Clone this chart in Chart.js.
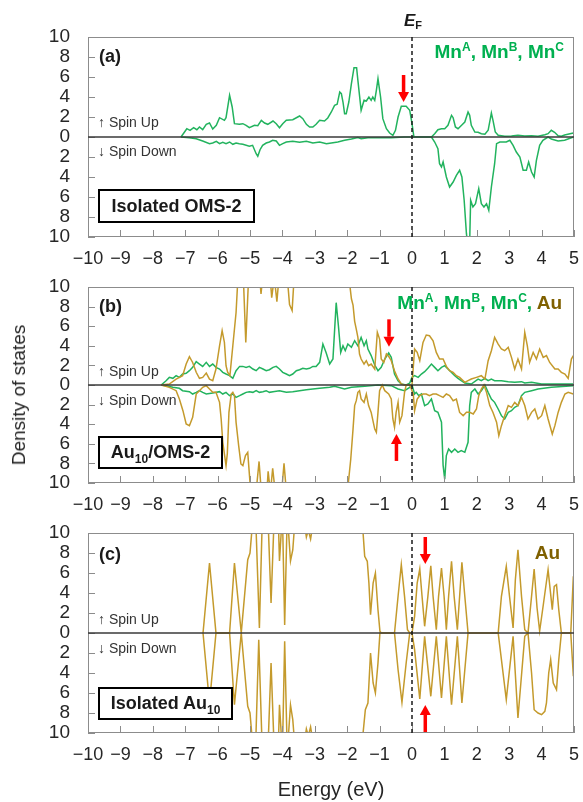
<!DOCTYPE html>
<html>
<head>
<meta charset="utf-8">
<script src="https://cdn.jsdelivr.net/npm/chart.js@4.4.1/dist/chart.umd.min.js"></script>
<style>
  body { margin: 0; background: #fff; }
  #wrap { position: relative; width: 583px; height: 802px; overflow: hidden; font-family: 'Liberation Sans', Arial, sans-serif; color: #262626; }
  canvas { position: absolute; left: 0; }
  .t { position: absolute; white-space: nowrap; }
  .lab { font-weight: bold; font-size: 18px; line-height: 22px; color: #1a1a1a; }
  .spin { font-size: 14px; line-height: 16px; color: #333; }
  .box { position: absolute; box-sizing: border-box; border: 2px solid #000; background: #fff; font-weight: bold; font-size: 18px; color: #1a1a1a; display: flex; align-items: center; justify-content: center; }
  .box sub { font-size: 12px; vertical-align: -5px; line-height: 0; }
  .lg { font-weight: bold; font-size: 19px; line-height: 22px; color: #00b050; text-align: right; }
  .lg sup { font-size: 12px; vertical-align: 7px; line-height: 0; }
  .au { color: #7f6000; }
</style>
</head>
<body>
<div id="wrap">
  <canvas id="pa" width="583" height="270" style="top:0"></canvas>
  <canvas id="pb" width="583" height="250" style="top:270px"></canvas>
  <canvas id="pc" width="583" height="282" style="top:520px"></canvas>

  <div class="t" style="left:404px; top:10px; font-weight:bold; font-style:italic; font-size:17px; line-height:22px; color:#1a1a1a;">E<sub style="font-size:11px; font-style:normal; vertical-align:-3px; line-height:0;">F</sub></div>
  <div class="t" style="left:19px; top:395px; font-size:19px; transform: translate(-50%, -50%) rotate(-90deg);">Density of states</div>

  <div class="t lab" style="left:99px; top:45px;">(a)</div>
  <div class="t spin" style="left:98px; top:114px;">↑ Spin Up</div>
  <div class="t spin" style="left:98px; top:143px;">↓ Spin Down</div>
  <div class="box" style="left:98px; top:189px; width:157px; height:34px;"><span>Isolated OMS-2</span></div>
  <div class="t lg" style="right:19px; top:41px;">Mn<sup>A</sup>, Mn<sup>B</sup>, Mn<sup>C</sup></div>

  <div class="t lab" style="left:99px; top:295px;">(b)</div>
  <div class="t spin" style="left:98px; top:363px;">↑ Spin Up</div>
  <div class="t spin" style="left:98px; top:392px;">↓ Spin Down</div>
  <div class="box" style="left:98px; top:436px; width:125px; height:33px;"><span>Au<sub>10</sub>/OMS-2</span></div>
  <div class="t lg" style="right:21px; top:292px;">Mn<sup>A</sup>, Mn<sup>B</sup>, Mn<sup>C</sup>, <span class="au">Au</span></div>

  <div class="t lab" style="left:99px; top:543px;">(c)</div>
  <div class="t spin" style="left:98px; top:611px;">↑ Spin Up</div>
  <div class="t spin" style="left:98px; top:640px;">↓ Spin Down</div>
  <div class="box" style="left:98px; top:687px; width:135px; height:33px;"><span>Isolated Au<sub>10</sub></span></div>
  <div class="t lg au" style="right:23px; top:542px;">Au</div>
</div>
<script>
// energy (eV), DOS pairs
const aMnUp = [[-7.13,0],[-6.95,0.83],[-6.85,0.67],[-6.74,0.93],[-6.64,0.73],[-6.56,1.0],[-6.46,0.73],[-6.35,1.27],[-6.25,1.4],[-6.15,0.8],[-6.04,1.17],[-5.94,1.93],[-5.79,1.67],[-5.74,1.93],[-5.63,4.17],[-5.55,3.0],[-5.48,1.33],[-5.33,1.27],[-5.22,1.33],[-5.12,1.17],[-5.02,0.93],[-4.86,1.17],[-4.76,1.13],[-4.65,1.67],[-4.55,1.4],[-4.45,1.27],[-4.29,1.6],[-4.19,1.33],[-4.09,0.93],[-3.99,1.33],[-3.88,1.67],[-3.68,1.73],[-3.47,2.1],[-3.37,1.83],[-3.26,1.27],[-3.16,1.0],[-3.06,1.0],[-2.96,1.27],[-2.85,1.67],[-2.70,1.6],[-2.60,1.9],[-2.49,2.5],[-2.39,3.17],[-2.31,3.27],[-2.23,4.5],[-2.18,4.33],[-2.13,3.5],[-2.08,2.33],[-2.03,2.33],[-1.95,3.5],[-1.87,5.33],[-1.79,6.93],[-1.71,6.93],[-1.67,5.67],[-1.62,4.17],[-1.57,2.67],[-1.48,3.67],[-1.41,3.6],[-1.33,4.0],[-1.26,3.67],[-1.21,4.0],[-1.15,3.67],[-1.10,4.67],[-1.05,5.83],[-0.97,4.0],[-0.90,1.83],[-0.79,0.83],[-0.69,0.4],[-0.59,0.17],[-0.51,0.67],[-0.43,2.0],[-0.33,3.07],[-0.18,3.07],[-0.07,2.67],[0.00,1.33],[0.06,0],[0.60,0],[0.70,0.33],[0.80,0.73],[0.91,0.83],[1.01,0.83],[1.11,1.17],[1.22,2.17],[1.27,1.93],[1.34,1.0],[1.42,0.83],[1.53,1.17],[1.63,1.5],[1.73,2.5],[1.78,2.17],[1.83,1.17],[1.94,0.5],[2.04,0.47],[2.14,0.33],[2.25,0.27],[2.35,0.67],[2.45,2.4],[2.50,1.67],[2.57,0.5],[2.66,0.17],[2.86,0.07],[3.07,0.1],[3.27,0.17],[3.48,0.1],[3.69,0.13],[3.89,0.07],[4.10,0.23],[4.20,0.33],[4.30,0.67],[4.40,0.47],[4.51,0.13],[4.61,0.07],[4.71,0.2],[4.81,0.27],[4.98,0.4]];
const aMnDown = [[-7.13,0],[-6.87,-0.07],[-6.66,-0.17],[-6.46,-0.4],[-6.25,-0.67],[-6.15,-0.6],[-6.04,-0.43],[-5.94,-0.67],[-5.84,-0.53],[-5.74,-0.67],[-5.63,-0.5],[-5.53,-0.73],[-5.43,-0.6],[-5.33,-0.67],[-5.22,-0.73],[-5.02,-0.93],[-4.92,-0.83],[-4.81,-1.67],[-4.76,-1.93],[-4.69,-1.27],[-4.61,-0.83],[-4.50,-0.6],[-4.40,-0.5],[-4.30,-0.33],[-4.19,-0.4],[-4.09,-0.83],[-3.99,-0.67],[-3.88,-0.5],[-3.68,-0.43],[-3.47,-0.53],[-3.26,-0.43],[-3.06,-0.6],[-2.85,-0.5],[-2.64,-0.67],[-2.49,-0.6],[-2.29,-0.5],[-2.08,-0.33],[-1.87,-0.2],[-1.67,-0.05],[-1.57,-0.17],[-1.36,-0.07],[-1.05,-0.07],[-0.64,-0.07],[-0.23,0],[0.60,0],[0.70,-0.5],[0.80,-1.17],[0.85,-2.67],[0.91,-3.0],[0.96,-2.5],[1.06,-4.0],[1.16,-5.0],[1.27,-4.5],[1.37,-3.83],[1.47,-3.33],[1.54,-4.0],[1.61,-6.33],[1.68,-9.67],[1.73,-11],[1.78,-10.5],[1.81,-6.33],[1.88,-7.0],[1.96,-6.67],[2.06,-5.17],[2.14,-6.67],[2.22,-7.0],[2.30,-6.67],[2.37,-7.33],[2.45,-5.0],[2.55,-2.67],[2.61,-0.67],[2.71,-0.5],[2.91,-0.5],[3.02,-0.33],[3.12,-0.83],[3.22,-1.5],[3.33,-2.0],[3.43,-3.33],[3.53,-3.33],[3.60,-2.5],[3.69,-3.5],[3.77,-4.0],[3.84,-2.33],[3.94,-0.83],[4.04,-0.33],[4.20,0],[4.30,-0.2],[4.51,-0.4],[4.71,-0.33],[4.92,-0.07],[4.98,0]];

const bMnUp = [[-7.74,0],[-7.59,0.44],[-7.49,0.78],[-7.38,0.68],[-7.28,0.95],[-7.18,0.78],[-7.08,1.12],[-6.97,1.19],[-6.87,1.46],[-6.77,1.8],[-6.66,2.38],[-6.56,2.14],[-6.46,1.9],[-6.35,2.31],[-6.25,1.9],[-6.15,2.14],[-6.05,1.8],[-5.94,1.63],[-5.84,1.29],[-5.74,1.12],[-5.63,0.95],[-5.53,0.68],[-5.43,1.46],[-5.32,1.9],[-5.22,1.9],[-5.12,1.8],[-5.02,1.9],[-4.91,1.63],[-4.81,1.46],[-4.71,1.8],[-4.60,1.63],[-4.50,1.46],[-4.40,1.56],[-4.29,1.8],[-4.19,1.9],[-4.09,1.63],[-3.99,1.29],[-3.88,1.12],[-3.78,0.95],[-3.68,1.12],[-3.57,1.46],[-3.47,1.56],[-3.37,1.7],[-3.26,1.63],[-3.16,1.7],[-3.06,1.9],[-2.96,1.9],[-2.85,2.31],[-2.75,4.18],[-2.65,3.3],[-2.54,2.14],[-2.44,2.65],[-2.34,8.4],[-2.27,6.0],[-2.20,3.33],[-2.13,4.0],[-2.06,3.5],[-1.98,4.18],[-1.87,3.84],[-1.77,4.52],[-1.67,4.0],[-1.57,4.86],[-1.48,4.0],[-1.41,4.52],[-1.36,3.67],[-1.26,3.0],[-1.15,2.04],[-1.05,1.46],[-0.95,1.8],[-0.84,2.65],[-0.72,3.27],[-0.64,2.82],[-0.54,1.12],[-0.43,0.44],[-0.33,0.1],[-0.18,0],[-0.07,0.2],[0.00,0.78],[0.08,0.95],[0.19,0.78],[0.29,1.12],[0.39,1.36],[0.49,1.7],[0.60,2.14],[0.70,1.8],[0.80,1.46],[0.91,1.8],[1.01,1.97],[1.11,1.63],[1.22,1.29],[1.32,0.95],[1.42,0.68],[1.52,0.44],[1.63,0.2],[1.83,0.1],[2.04,0.6],[2.14,0.44],[2.25,0.68],[2.35,0.44],[2.45,0.6],[2.55,0.44],[2.76,0.44],[2.97,0.34],[3.17,0.27],[3.38,0.34],[3.48,0.2],[3.69,0.27],[4.00,0.1],[4.51,0.1],[4.98,0.1]];
const bMnDown = [[-7.74,0],[-7.59,-0.07],[-7.38,-0.24],[-7.18,-0.34],[-7.08,-0.58],[-6.87,-0.68],[-6.77,-0.92],[-6.66,-0.75],[-6.56,-0.58],[-6.46,-0.75],[-6.35,-0.92],[-6.15,-0.82],[-5.94,-0.68],[-5.84,-0.92],[-5.74,-0.75],[-5.63,-1.09],[-5.53,-0.92],[-5.43,-1.26],[-5.32,-1.09],[-5.22,-0.92],[-5.12,-0.75],[-5.02,-0.68],[-4.91,-0.75],[-4.81,-0.58],[-4.71,-0.75],[-4.60,-0.68],[-4.50,-0.58],[-4.40,-0.75],[-4.29,-0.68],[-4.09,-0.58],[-3.88,-0.75],[-3.68,-0.68],[-3.47,-0.58],[-3.26,-0.48],[-3.06,-0.41],[-2.85,-0.34],[-2.54,-0.24],[-2.39,-0.14],[-2.08,-0.41],[-1.87,-0.24],[-1.46,-0.14],[-1.05,0],[-0.64,-0.07],[-0.43,-0.41],[-0.23,-0.58],[-0.07,-0.24],[0.00,0],[0.08,-0.92],[0.13,-0.75],[0.21,-1.09],[0.29,-0.92],[0.39,-2.1],[0.49,-1.94],[0.60,-1.43],[0.70,-2.62],[0.80,-2.79],[0.91,-3.8],[0.96,-8.2],[1.01,-9.6],[1.06,-7.2],[1.13,-6.53],[1.22,-6.87],[1.32,-6.53],[1.42,-6.87],[1.52,-6.7],[1.63,-6.87],[1.73,-5.85],[1.78,-2.1],[1.83,-0.75],[1.94,-0.41],[2.04,-0.92],[2.14,-0.58],[2.25,0],[2.35,-0.75],[2.45,-1.43],[2.55,-1.77],[2.66,-2.45],[2.76,-3.13],[2.86,-3.47],[2.97,-2.79],[3.07,-2.62],[3.17,-2.28],[3.27,-2.1],[3.38,-1.09],[3.48,-0.75],[3.69,-0.58],[3.89,-0.41],[4.30,-0.24],[4.98,-0.07]];
const bAuUp = [[-7.74,0],[-7.49,0.1],[-7.28,0.6],[-7.08,0.95],[-6.97,2.14],[-6.87,2.9],[-6.77,2.3],[-6.66,1.3],[-6.56,0.68],[-6.46,0.78],[-6.35,1.22],[-6.25,0.6],[-6.15,0.44],[-6.05,1.63],[-5.94,4.0],[-5.86,5.54],[-5.79,4.35],[-5.74,1.97],[-5.69,1.3],[-5.62,0.95],[-5.53,4.0],[-5.43,7.4],[-5.38,10.5],[-5.30,14],[-5.20,10.5],[-5.13,4.35],[-5.05,10.5],[-4.95,14],[-4.75,13],[-4.66,9.3],[-4.55,13],[-4.40,12],[-4.33,8.9],[-4.25,11],[-4.17,8.5],[-4.08,12],[-3.90,13],[-3.78,8.2],[-3.70,7.6],[-3.62,12],[-3.30,15],[-2.50,15],[-2.10,14],[-1.93,10.5],[-1.87,8.8],[-1.82,8.16],[-1.77,6.5],[-1.72,5.7],[-1.67,4.86],[-1.62,3.16],[-1.57,2.65],[-1.48,2.14],[-1.41,2.48],[-1.34,1.97],[-1.26,2.14],[-1.15,1.63],[-1.07,5.37],[-1.00,4.69],[-0.95,2.65],[-0.87,2.3],[-0.79,3.16],[-0.72,2.93],[-0.64,2.48],[-0.54,1.46],[-0.43,0.61],[-0.33,0.1],[-0.23,0],[0.00,0],[0.08,3.67],[0.16,3.33],[0.24,2.48],[0.34,4.35],[0.44,5.1],[0.54,5.03],[0.65,4.52],[0.75,3.33],[0.85,2.65],[0.96,2.65],[1.06,1.9],[1.16,1.46],[1.27,1.29],[1.37,0.95],[1.47,0.78],[1.63,0.27],[1.73,0.44],[1.83,0.61],[1.99,0.78],[2.14,0.95],[2.25,0.61],[2.35,2.48],[2.45,3.5],[2.55,4.86],[2.66,4.18],[2.76,3.67],[2.86,3.5],[2.97,3.84],[3.07,2.82],[3.17,1.63],[3.27,2.65],[3.38,1.63],[3.48,5.37],[3.56,4.0],[3.63,2.31],[3.74,3.33],[3.84,2.65],[3.94,3.67],[4.05,2.82],[4.15,3.0],[4.25,2.3],[4.41,1.63],[4.51,1.63],[4.61,1.29],[4.72,1.12],[4.82,0.68],[4.92,2.65],[4.98,3.0]];
const bAuDown = [[-7.74,0],[-7.49,-0.24],[-7.28,-0.58],[-7.18,-1.43],[-7.07,-2.62],[-6.97,-3.98],[-6.87,-4.15],[-6.77,-3.3],[-6.66,-0.92],[-6.56,-0.58],[-6.46,-0.24],[-6.35,-0.07],[-6.25,-0.41],[-6.15,-0.75],[-6.05,-0.75],[-5.94,-1.77],[-5.89,-3.47],[-5.84,-5.85],[-5.74,-8.23],[-5.70,-7.0],[-5.65,-2.79],[-5.58,-0.92],[-5.53,-0.75],[-5.48,-1.09],[-5.43,-3.81],[-5.35,-6.19],[-5.28,-8.06],[-5.22,-8.23],[-5.14,-7.2],[-5.07,-6.87],[-5.00,-9.93],[-4.90,-13],[-4.80,-10.5],[-4.72,-7.8],[-4.65,-11],[-4.50,-12],[-4.44,-8.8],[-4.37,-11],[-4.30,-8.5],[-4.22,-11],[-4.05,-12],[-3.95,-8.0],[-3.85,-12],[-3.50,-15],[-2.50,-15],[-2.10,-13],[-1.98,-10.5],[-1.89,-7.55],[-1.82,-4.5],[-1.77,-2.1],[-1.72,-1.6],[-1.67,-0.75],[-1.62,-0.58],[-1.57,-1.43],[-1.48,-1.77],[-1.41,-0.92],[-1.34,-2.1],[-1.26,-2.8],[-1.15,-4.5],[-1.10,-4.83],[-1.05,-2.79],[-1.00,-0.58],[-0.92,0],[-0.84,-0.58],[-0.72,-0.92],[-0.64,-1.43],[-0.59,-3.47],[-0.54,-4.32],[-0.49,-2.79],[-0.43,-1.77],[-0.38,-3.8],[-0.31,-3.13],[-0.23,-0.75],[-0.18,0],[-0.07,0],[0.04,-0.92],[0.08,-2.62],[0.16,-1.43],[0.24,-1.09],[0.34,-0.92],[0.44,-0.92],[0.54,-1.09],[0.65,-0.92],[0.75,-0.92],[0.85,-1.09],[0.96,-1.26],[1.06,-0.92],[1.16,-1.09],[1.27,-1.6],[1.37,-1.43],[1.47,-2.8],[1.58,-3.13],[1.68,-2.79],[1.78,-2.79],[1.89,-2.96],[1.99,-2.45],[2.06,-1.09],[2.14,-0.41],[2.22,0],[2.30,-0.75],[2.40,-2.1],[2.50,-2.8],[2.61,-3.8],[2.68,-5.17],[2.76,-4.15],[2.86,-3.13],[2.97,-2.1],[3.07,-2.28],[3.17,-1.77],[3.27,-2.1],[3.38,-1.26],[3.48,-2.1],[3.58,-3.47],[3.69,-2.79],[3.79,-2.45],[3.89,-3.47],[4.00,-3.13],[4.10,-2.1],[4.20,-3.47],[4.33,-5.0],[4.41,-4.15],[4.51,-2.8],[4.61,-1.77],[4.72,-0.92],[4.82,-0.75],[4.98,-0.92]];

const cAuUp = [[-6.45,0],[-6.25,7.0],[-6.05,0],[-5.63,0],[-5.48,7.0],[-5.27,0],[-5.07,7.33],[-5.00,8.0],[-4.93,10.7],[-4.85,14],[-4.71,0.5],[-4.60,14],[-4.45,12],[-4.35,3.0],[-4.25,12],[-4.15,14],[-4.09,7.2],[-4.00,12],[-3.93,0.8],[-3.85,12],[-3.75,7.2],[-3.68,8.3],[-3.55,14],[-3.30,10.5],[-3.26,9.6],[-3.20,10.3],[-3.13,9.4],[-3.05,11],[-2.50,15],[-1.60,12],[-1.51,10],[-1.46,7.67],[-1.38,7.17],[-1.33,5.0],[-1.28,1.83],[-1.20,5.0],[-1.13,6.0],[-1.05,2.33],[-0.99,0.17],[-0.95,0],[-0.54,0],[-0.43,3.67],[-0.33,6.83],[-0.23,3.67],[-0.14,0.33],[-0.07,0],[0.00,0],[0.08,1.67],[0.16,5.0],[0.24,6.4],[0.31,3.67],[0.39,0.67],[0.49,3.67],[0.58,6.73],[0.65,3.67],[0.75,0.33],[0.82,3.67],[0.91,6.5],[0.99,3.67],[1.06,0.33],[1.13,3.67],[1.22,7.17],[1.30,3.67],[1.40,0.33],[1.47,3.67],[1.54,7.07],[1.63,3.67],[1.73,0],[2.66,0],[2.76,3.67],[2.91,6.67],[3.01,3.67],[3.12,0.5],[3.19,5.33],[3.27,8.33],[3.38,3.67],[3.48,0.33],[3.58,0],[3.69,3.67],[3.77,6.4],[3.86,2.5],[3.94,0.2],[4.06,3.0],[4.20,6.33],[4.33,2.33],[4.39,4.67],[4.46,4.83],[4.53,2.33],[4.61,0],[4.90,0],[4.98,5.67]];
const cAuDown = [[-6.45,0],[-6.25,-7.0],[-6.05,0],[-5.63,0],[-5.48,-7.17],[-5.27,0],[-5.07,-7.33],[-5.00,-8.0],[-4.93,-10.7],[-4.85,-14],[-4.73,-0.67],[-4.60,-14],[-4.45,-12],[-4.35,-3.0],[-4.25,-12],[-4.15,-14],[-4.09,-7.17],[-4.00,-12],[-3.93,-0.83],[-3.85,-12],[-3.75,-7.2],[-3.68,-8.67],[-3.55,-14],[-3.30,-10.5],[-3.26,-9.6],[-3.20,-10.3],[-3.13,-9.4],[-3.05,-11],[-2.50,-15],[-1.60,-12],[-1.51,-10],[-1.44,-7.67],[-1.36,-7.0],[-1.28,-2.0],[-1.20,-5.0],[-1.13,-6.0],[-1.05,-3.0],[-0.99,0],[-0.54,0],[-0.43,-3.67],[-0.31,-6.93],[-0.18,-3.0],[-0.07,0],[0.00,0],[0.08,-1.67],[0.24,-6.6],[0.39,-0.33],[0.58,-6.33],[0.75,-0.33],[0.91,-6.5],[1.06,-0.33],[1.22,-7.17],[1.40,-0.33],[1.54,-7.0],[1.73,0],[2.66,0],[2.91,-6.67],[3.12,-0.33],[3.27,-8.5],[3.48,-0.33],[3.58,0],[3.69,-4.0],[3.77,-7.67],[3.89,-8.0],[4.00,-8.17],[4.10,-7.83],[4.15,-7.0],[4.22,-4.0],[4.28,-2.67],[4.36,-5.0],[4.46,-5.67],[4.53,-2.67],[4.61,0],[4.90,0],[4.98,-4.33]];

const xTicks = [-10, 5, 1];   // min, max, step (eV)
const yTicks = [-10, 10, 2];  // DOS, shown as absolute values

const GREEN = '#22b35e';
const GOLD = '#c49a2c';
Chart.defaults.font.family = "'Liberation Sans', Arial, sans-serif";
Chart.defaults.color = '#262626';

// zero line, Fermi level, frame, inward ticks, red arrows
const decor = {
  id: 'decor',
  afterDatasetsDraw(chart, args, opts) {
    const { ctx, chartArea: a, scales: { x, y } } = chart;
    const seg = (x1, y1, x2, y2) => { ctx.beginPath(); ctx.moveTo(x1, y1); ctx.lineTo(x2, y2); ctx.stroke(); };
    ctx.save();
    ctx.strokeStyle = '#8c8c8c'; ctx.lineWidth = 1;
    ctx.strokeRect(a.left + 0.5, a.top + 0.5, a.width - 1, a.height - 1);
    y.ticks.forEach(t => { const py = Math.round(y.getPixelForValue(t.value)) + 0.5; seg(a.left, py, a.left + 7, py); });
    x.ticks.forEach(t => { const px = Math.round(x.getPixelForValue(t.value)) + 0.5; seg(px, a.bottom, px, a.bottom - 7); });

    const y0 = y.getPixelForValue(0);
    ctx.strokeStyle = '#3a3a3a'; ctx.lineWidth = 1.5;
    seg(a.left, y0, a.right, y0);

    const x0 = x.getPixelForValue(0);
    ctx.strokeStyle = '#1a1a1a'; ctx.lineWidth = 1.5; ctx.setLineDash([4, 3]);
    seg(x0, a.top, x0, a.bottom);
    ctx.setLineDash([]);

    ctx.fillStyle = '#ff0000';
    (opts.arrows || []).forEach(([e, from, to]) => {
      const px = x.getPixelForValue(e), p1 = y.getPixelForValue(from), p2 = y.getPixelForValue(to);
      const dir = p2 > p1 ? 1 : -1, head = 10;
      ctx.fillRect(px - 1.75, Math.min(p1, p2 - dir * head), 3.5, Math.abs(p2 - dir * head - p1));
      ctx.beginPath();
      ctx.moveTo(px - 5.5, p2 - dir * head);
      ctx.lineTo(px + 5.5, p2 - dir * head);
      ctx.lineTo(px, p2);
      ctx.closePath(); ctx.fill();
    });
    ctx.restore();
  }
};

function line(pairs, color, order) {
  return { data: pairs.map(p => ({ x: p[0], y: p[1] })), borderColor: color, borderWidth: 1.5,
           pointRadius: 0, tension: 0, fill: false, order: order };
}

function panel(id, datasets, arrows, top, xh, title) {
  return new Chart(document.getElementById(id), {
    type: 'line',
    data: { datasets },
    options: {
      responsive: false, animation: false, events: [],
      layout: { padding: { top: top, right: 9, left: 0, bottom: 0 } },
      plugins: { legend: { display: false }, tooltip: { enabled: false }, decor: { arrows } },
      scales: {
        x: {
          type: 'linear', min: xTicks[0], max: xTicks[1],
          grid: { display: false, drawTicks: true, tickLength: 11 }, border: { display: false },
          ticks: { stepSize: xTicks[2], padding: 0, maxRotation: 0, autoSkip: false, font: { size: 18 },
                   callback: v => v < 0 ? '\u2212' + (-v) : String(v) },
          title: { display: !!title, text: title || '', font: { size: 20 }, padding: { top: 0, bottom: 0 } },
          afterFit: s => { s.height = xh; }
        },
        y: {
          min: yTicks[0], max: yTicks[1],
          grid: { display: false, drawTicks: true, tickLength: 18 }, border: { display: false },
          ticks: { stepSize: yTicks[2], padding: 0, autoSkip: false, font: { size: 19 }, callback: v => Math.abs(v) },
          afterFit: s => { s.width = 88; }
        }
      }
    },
    plugins: [decor]
  });
}

panel('pa', [line(aMnUp, GREEN, 1), line(aMnDown, GREEN, 1)],
      [[-0.26, 6.2, 3.5]], 37, 33);
panel('pb', [line(bMnUp, GREEN, 2), line(bMnDown, GREEN, 2), line(bAuUp, GOLD, 1), line(bAuDown, GOLD, 1)],
      [[-0.71, 6.7, 3.9], [-0.48, -7.75, -5.0]], 17, 37);
panel('pc', [line(cAuUp, GOLD, 1), line(cAuDown, GOLD, 1)],
      [[0.41, 9.6, 6.9], [0.41, -9.9, -7.2]], 13, 69, 'Energy (eV)');
</script>
</body>
</html>
